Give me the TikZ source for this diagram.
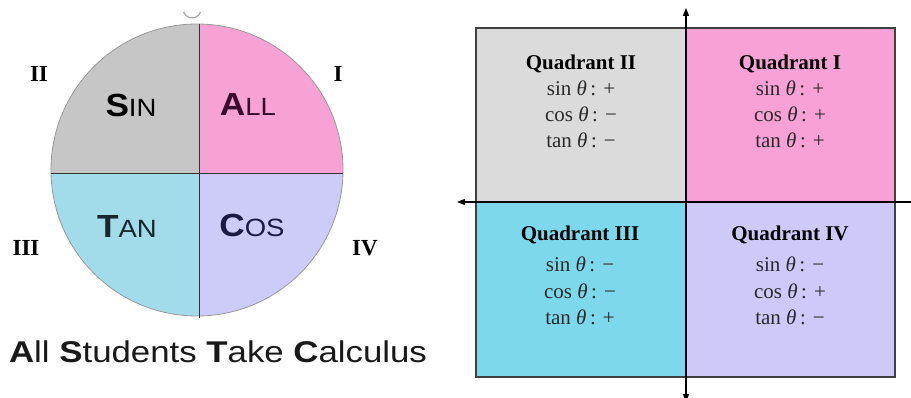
\documentclass[tikz,border=0pt]{standalone}
\usepackage{fontspec}
\setmainfont{Liberation Serif}
\newfontfamily\arialf{Liberation Sans}
\usetikzlibrary{arrows.meta}
\definecolor{cgray}{HTML}{C6C6C6}
\definecolor{cpink}{HTML}{F6A2D4}
\definecolor{cblue}{HTML}{A2DCEA}
\definecolor{clav}{HTML}{CDCBF8}
\definecolor{rgray}{HTML}{DBDBDB}
\definecolor{rpink}{HTML}{F7A1D6}
\definecolor{rblue}{HTML}{7DD8EB}
\definecolor{rlav}{HTML}{CDC9F9}
\definecolor{tall}{HTML}{3A0A2C}
\definecolor{ttan}{HTML}{18282E}
\definecolor{tcos}{HTML}{1A1A42}
\definecolor{txt}{HTML}{2A2A2A}
\begin{document}
\begin{tikzpicture}[x=1pt,y=-1pt,
  numlab/.style={anchor=base,font=\fontsize{23}{23}\selectfont\bfseries,text=black,inner sep=0pt},
  circlab/.style={anchor=base,inner sep=0pt},
  qtitle/.style={anchor=base,font=\fontsize{21}{21}\selectfont\bfseries,text=black,inner sep=0pt},
  qline/.style={anchor=base,font=\fontsize{21}{21}\selectfont,text=txt,inner sep=0pt},
  axis/.style={line width=1.1pt,draw=black,-{Triangle[length=8pt,width=6pt]}}]
\useasboundingbox (0,0) rectangle (911,398);
\fill[white] (0,0) rectangle (911,398);
% ---------- left: circle ----------
\coordinate (cc) at (197,170);
\coordinate (cx) at (199,173);
\begin{scope}
  \clip (cc) circle (146);
  \fill[cgray] (40,10) rectangle (cx);
  \fill[cpink] (360,10) rectangle (cx);
  \fill[cblue] (40,330) rectangle (cx);
  \fill[clav] (360,330) rectangle (cx);
\end{scope}
\draw[line width=0.8pt,draw=gray!80] (cc) circle (146);
\coordinate (vt) at (199,24);
\coordinate (vb) at (199,318);
\coordinate (hl) at (51,173);
\coordinate (hr) at (343,173);
\draw[line width=0.9pt,draw=black!80] (vt) -- (vb);
\draw[line width=0.9pt,draw=black!80] (hl) -- (hr);
\draw[line width=1.2pt,draw=gray!70] (200.5,12) arc[start angle=20,end angle=160,radius=9];
\node[circlab] (sin) at (131,117) {\arialf\scalebox{1.1}[1]{\fontsize{32}{32}\selectfont\bfseries S\fontsize{25}{25}\selectfont\mdseries IN}};
\node[circlab,text=tall] (all) at (248,116) {\arialf\scalebox{1.1}[1]{\fontsize{32}{32}\selectfont\bfseries A\fontsize{25}{25}\selectfont\mdseries LL}};
\node[circlab,text=ttan] (tan) at (127,238) {\arialf\scalebox{1.1}[1]{\fontsize{32}{32}\selectfont\bfseries T\fontsize{25}{25}\selectfont\mdseries AN}};
\node[circlab,text=tcos] (cos) at (252,237) {\arialf\scalebox{1.1}[1]{\fontsize{32}{32}\selectfont\bfseries C\fontsize{25}{25}\selectfont\mdseries OS}};
\node[numlab] (nII) at (39,82) {II};
\node[numlab] (nI) at (338,82) {I};
\node[numlab] (nIII) at (26,256) {III};
\node[numlab] (nIV) at (365,256) {IV};
\node[anchor=base,inner sep=0pt,text=black!90] (motto) at (218,362) {\arialf\scalebox{1.16}[1]{\fontsize{30}{30}\selectfont\bfseries A\mdseries ll \bfseries S\mdseries tudents \bfseries T\mdseries ake \bfseries C\mdseries alculus}};
% ---------- right: quadrants ----------
\coordinate (o) at (686,202);
\fill[rgray] (476,28) rectangle (o);
\fill[rpink] (895,28) rectangle (o);
\fill[rblue] (476,377) rectangle (o);
\fill[rlav] (895,377) rectangle (o);
\draw[line width=1.3pt,draw=black!75] (476,28) rectangle (895,377);
\coordinate (ytop) at (686,8);
\coordinate (ybot) at (686,402);
\coordinate (xleft) at (457,202);
\coordinate (xright) at (915,202);
\draw[axis] (ybot) -- (ytop);
\draw[axis] (o) -- (ybot);
\draw[axis] (xright) -- (xleft);
% Quadrant II
\node[qtitle] (q2t) at (581,70) {Quadrant II};
\node[qline] (q2s) at (581,96) {sin \textit{θ}\,: +};
\node[qline] (q2c) at (581,122) {cos \textit{θ}\,: −};
\node[qline] (q2n) at (581,148) {tan \textit{θ}\,: −};
% Quadrant I
\node[qtitle] (q1t) at (790,70) {Quadrant I};
\node[qline] (q1s) at (790,96) {sin \textit{θ}\,: +};
\node[qline] (q1c) at (790,122) {cos \textit{θ}\,: +};
\node[qline] (q1n) at (790,148) {tan \textit{θ}\,: +};
% Quadrant III
\node[qtitle] (q3t) at (580,241) {Quadrant III};
\node[qline] (q3s) at (580,272) {sin \textit{θ}\,: −};
\node[qline] (q3c) at (580,299) {cos \textit{θ}\,: −};
\node[qline] (q3n) at (580,325) {tan \textit{θ}\,: +};
% Quadrant IV
\node[qtitle] (q4t) at (790,241) {Quadrant IV};
\node[qline] (q4s) at (790,272) {sin \textit{θ}\,: −};
\node[qline] (q4c) at (790,299) {cos \textit{θ}\,: +};
\node[qline] (q4n) at (790,325) {tan \textit{θ}\,: −};
\end{tikzpicture}
\end{document}
